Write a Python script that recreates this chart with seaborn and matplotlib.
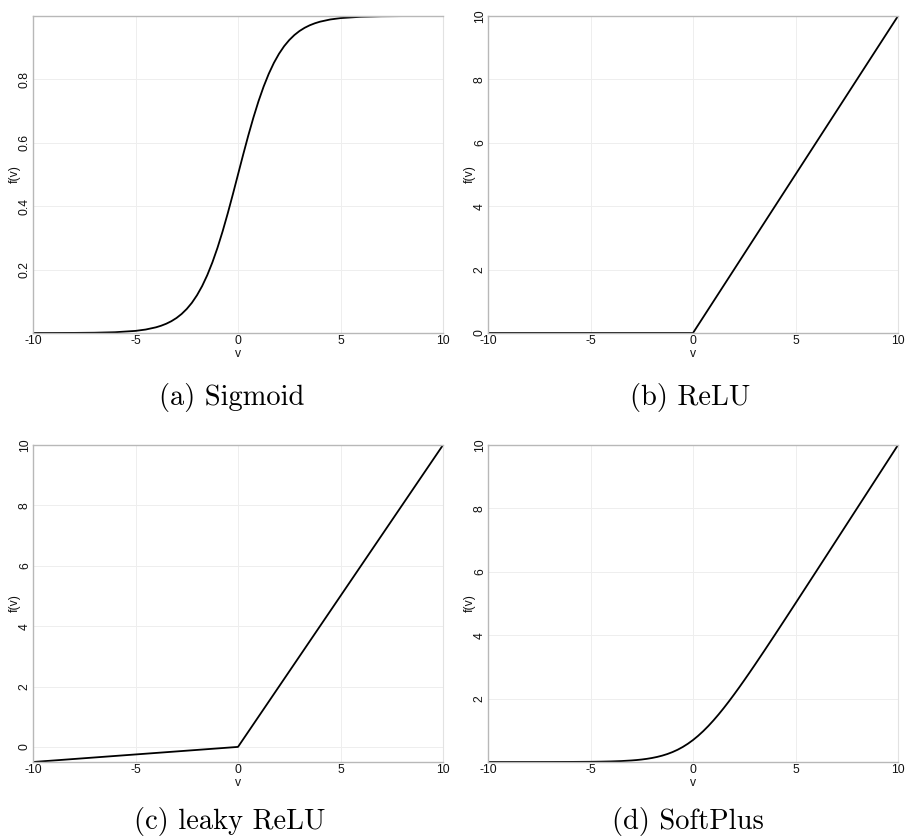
import numpy as np
import matplotlib
matplotlib.use("Agg")
import matplotlib.pyplot as plt
import seaborn as sns

# Sampled activation curves
v_smooth = [-10, -9, -8, -7, -6, -5, -4.5, -4, -3.75, -3.5, -3.25, -3, -2.75, -2.5,
            -2.25, -2, -1.75, -1.5, -1.25, -1, -0.75, -0.5, -0.25, 0, 0.25, 0.5,
            0.75, 1, 1.25, 1.5, 1.75, 2, 2.25, 2.5, 2.75, 3, 3.25, 3.5, 3.75, 4,
            4.5, 5, 6, 7, 8, 9, 10]
sigmoid_vals = [0.0000454, 0.000123, 0.000335, 0.000911, 0.00247, 0.00669, 0.0110,
                0.0180, 0.0230, 0.0293, 0.0373, 0.0474, 0.0601, 0.0759, 0.0953,
                0.1192, 0.1480, 0.1824, 0.2227, 0.2689, 0.3208, 0.3775, 0.4378,
                0.5000, 0.5622, 0.6225, 0.6792, 0.7311, 0.7773, 0.8176, 0.8520,
                0.8808, 0.9047, 0.9241, 0.9399, 0.9526, 0.9627, 0.9707, 0.9770,
                0.9820, 0.9890, 0.99331, 0.99753, 0.99909, 0.99966, 0.99988, 0.99995]

v_soft = [-10, -9, -8, -7, -6, -5, -4.5, -4, -3.5, -3, -2.75, -2.5, -2.25, -2,
          -1.75, -1.5, -1.25, -1, -0.75, -0.5, -0.25, 0, 0.25, 0.5, 0.75, 1,
          1.25, 1.5, 1.75, 2, 2.25, 2.5, 2.75, 3, 3.5, 4, 4.5, 5, 6, 7, 8, 9, 10]
softplus_vals = [0.0000454, 0.000123, 0.000335, 0.000912, 0.00248, 0.00672, 0.0110,
                 0.0181, 0.0298, 0.0486, 0.0620, 0.0789, 0.1000, 0.1269, 0.1602,
                 0.2014, 0.2519, 0.3133, 0.3868, 0.4741, 0.5759, 0.6931, 0.8259,
                 0.9741, 1.1368, 1.3133, 1.5019, 1.7014, 1.9102, 2.1269, 2.3500,
                 2.5789, 2.8120, 3.0486, 3.5298, 4.0181, 4.5110, 5.0067, 6.0025,
                 7.0009, 8.0003, 9.0001, 10.0000]

v_kink = [-10, 0, 10]
relu_vals = [0, 0, 10]
leaky_vals = [-0.5, 0, 10]

x_ticks = [-10, -5, 0, 5, 10]
x_tick_labels = ["-10", "-5", "0", "5", "10"]
sig_ticks = [0.2, 0.4, 0.6, 0.8]
lin_ticks = [0, 2, 4, 6, 8, 10]
soft_ticks = [2, 4, 6, 8, 10]

captions = ["(a) Sigmoid", "(b) ReLU", "(c) leaky ReLU", "(d) SoftPlus"]

sns.set_theme(style="white")
plt.rcParams["font.family"] = ["Liberation Sans", "DejaVu Sans"]
plt.rcParams["axes.unicode_minus"] = False

W, H = 905, 840
fig = plt.figure(figsize=(W / 100, H / 100), dpi=100)

panels = [
    (v_smooth, sigmoid_vals, sig_ticks, [f"{t:.1f}" for t in sig_ticks], 33, 16),
    (v_kink, relu_vals, lin_ticks, [str(t) for t in lin_ticks], 488, 16),
    (v_kink, leaky_vals, lin_ticks, [str(t) for t in lin_ticks], 33, 445),
    (v_soft, softplus_vals, soft_ticks, [str(t) for t in soft_ticks], 488, 445),
]
ax_w, ax_h = 410, 317
ink = "#111111"

for (xs, ys, yt, ytl, left, top) in panels:
    ax = fig.add_axes([left / W, 1 - (top + ax_h) / H, ax_w / W, ax_h / H])
    sns.lineplot(x=xs, y=ys, ax=ax, color="black", linewidth=1.3,
                 estimator=None, sort=False)
    ax.margins(0)
    ax.set_xlim(min(xs), max(xs))
    ax.set_ylim(min(ys), max(ys))
    ax.set_xticks(x_ticks)
    ax.set_xticklabels(x_tick_labels)
    ax.set_yticks(yt)
    ax.set_yticklabels(ytl, rotation=90, va="center")
    ax.tick_params(axis="both", length=0, labelsize=8.7, pad=1.5, colors=ink)
    ax.grid(True, color="#eeeeee", linewidth=0.7)
    for side in ["left", "top", "bottom"]:
        ax.spines[side].set_color("#b8b8b8")
        ax.spines[side].set_linewidth(1.0)
    ax.spines["right"].set_color("#e2e2e2")
    ax.spines["right"].set_linewidth(0.8)
    ax.set_xlabel("v", fontsize=8.7, labelpad=0.5, color=ink)
    ax.set_ylabel("f(v)", fontsize=8.7, labelpad=-1, color=ink)

caption_pos = [(232, 398), (690, 398), (230, 822), (688, 822)]
for text, (cx, cy) in zip(captions, caption_pos):
    fig.text(cx / W, 1 - cy / H, text, ha="center", va="center",
             fontsize=20.5, family="cmr10", color="black")

fig.savefig("out.png", dpi=100)
